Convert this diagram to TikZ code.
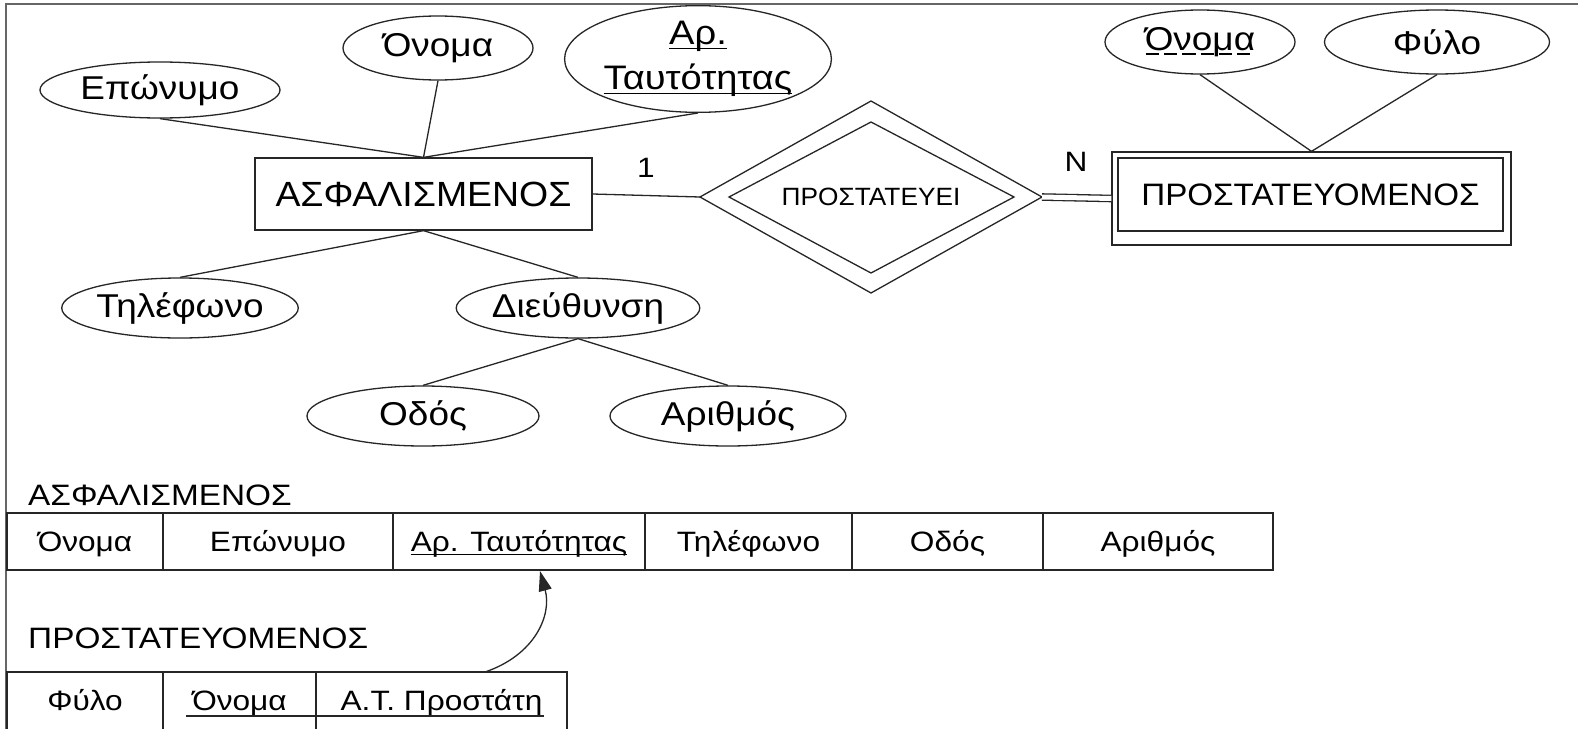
\documentclass[tikz,border=0pt]{standalone}
\usepackage{fontspec}
\setmainfont{Liberation Sans}[FakeStretch=1.12]
\newfontfamily\fattr{Liberation Sans}[FakeStretch=1.12]
\newfontfamily\fent{Liberation Sans}[FakeStretch=1.07]
\newfontfamily\ftab{Liberation Sans}[FakeStretch=1.13]
\newfontfamily\relfont{Liberation Sans}[FakeStretch=1.05]
\usetikzlibrary{shapes.geometric,arrows.meta,calc}
\newcommand\myul[1]{\leavevmode\setbox0=\hbox{#1}\rlap{\rule[-0.14em]{\wd0}{0.045em}}\box0}
\newcommand\myuld[1]{\leavevmode\setbox0=\hbox{#1}\rlap{\raisebox{-0.14em}{\hbox to \wd0{\xleaders\hbox to 0.52em{\rule{0.4em}{0.045em}\hss}\hfill}}}\box0}
\tikzset{
  ln/.style={line width=1.3pt, draw=black!85},
  attr/.style={ellipse, ln, inner sep=0pt, font=\fattr\fontsize{33}{40}\selectfont},
  entity/.style={rectangle, ln, inner sep=0pt, font=\fent\fontsize{35}{40}\selectfont},
  lbl/.style={inner sep=0pt, font=\ftab\fontsize{28}{32}\selectfont},
  tlbl/.style={inner sep=0pt, anchor=base west, font=\ftab\fontsize{29.5}{34}\selectfont},
  cellA/.style={rectangle, ln, inner sep=0pt, minimum height=57pt, text height=20pt, text depth=0pt, font=\ftab\fontsize{28}{32}\selectfont},
  cellB/.style={rectangle, ln, inner sep=0pt, minimum height=60pt, text height=20pt, text depth=4pt, font=\ftab\fontsize{28}{32}\selectfont},
}
\begin{document}
\begin{tikzpicture}[x=1pt,y=-1pt]
\useasboundingbox (0,0) rectangle (1578,728);
\clip (0,0) rectangle (1578,728);
\fill[white] (0,0) rectangle (1578,728);
\draw[line width=1.5pt, draw=black!60] (6,732) -- (6,4) -- (1582,4);

% ER part
\node[attr, minimum width=240pt, minimum height=56pt] (epo) at (160,90) {Επώνυμο};
\node[attr, minimum width=190pt, minimum height=64pt] (on1) at (438,48) {Όνομα};
\node[attr, minimum width=232pt, minimum height=106pt, align=center, font=\fattr\fontsize{34}{45}\selectfont] (art) at (698,59) {\myul{Αρ.}\\\myul{Ταυτότητας}};
\node[entity, minimum width=337pt, minimum height=72pt] (ent1) at (423.5,194) {ΑΣΦΑΛΙΣΜΕΝΟΣ};
\node[attr, minimum width=236pt, minimum height=60pt] (til) at (180,308) {Τηλέφωνο};
\node[attr, minimum width=236pt, minimum height=60pt] (die) at (578,308) {Διεύθυνση};
\node[attr, minimum width=232pt, minimum height=60pt] (odo) at (423,416) {Οδός};
\node[attr, minimum width=236pt, minimum height=60pt] (ari) at (728,416) {Αριθμός};
\node[attr, minimum width=190pt, minimum height=64pt] (on2) at (1200,42) {\myuld{Όνομα}};
\node[attr, minimum width=225pt, minimum height=64pt] (fyl) at (1437,42) {Φύλο};
\node[entity, minimum width=399pt, minimum height=93pt] (ent2) at (1311.5,198.5) {};
\node[entity, minimum width=385pt, minimum height=73pt, font=\fent\fontsize{31}{36}\selectfont] (ent2in) at (1310.5,194.5) {ΠΡΟΣΤΑΤΕΥΟΜΕΝΟΣ};

% relationship diamond
\node[inner sep=0pt, font=\relfont\fontsize{25}{30}\selectfont] (rel) at (871,197) {ΠΡΟΣΤΑΤΕΥΕΙ};
\coordinate (dL) at (700,197);
\coordinate (dT) at (871,101);
\coordinate (dR) at (1042,197);
\coordinate (dB) at (871,293);
\coordinate (iL) at (729,197);
\coordinate (iT) at (871,122);
\coordinate (iR) at (1014,197);
\coordinate (iB) at (871,273);
\draw[ln, line join=miter] (dL) -- (dT) -- (dR) -- (dB) -- cycle;
\draw[ln, line join=miter] (iL) -- (iT) -- (iR) -- (iB) -- cycle;

\node[lbl] (one) at (646,168) {1};
\node[lbl] (nn) at (1076,162) {N};

% connectors
\draw[ln] (epo.south) -- (ent1.north);
\draw[ln] (on1.south) -- (ent1.north);
\draw[ln] (art.south) -- (ent1.north);
\draw[ln] (ent1.south) -- (til.north);
\draw[ln] (ent1.south) -- (die.north);
\draw[ln] (die.south) -- (odo.north);
\draw[ln] (die.south) -- (ari.north);
\draw[ln] (on2.south) -- (ent2.north);
\draw[ln] (fyl.south) -- (ent2.north);
\draw[ln] (ent1.east) -- (dL);
\draw[ln, double, double distance=5pt] (dR) -- (ent2.west);

% relational tables
\node[tlbl] (lab1) at (28,505) {ΑΣΦΑΛΙΣΜΕΝΟΣ};
\node[cellA, minimum width=156pt] (t1a) at (85,541.5) {Όνομα};
\node[cellA, minimum width=230pt] (t1b) at (278,541.5) {Επώνυμο};
\node[cellA, minimum width=252pt] (t1c) at (519,541.5) {\myul{Αρ. Ταυτότητας}};
\node[cellA, minimum width=207pt] (t1d) at (748.5,541.5) {Τηλέφωνο};
\node[cellA, minimum width=191pt] (t1e) at (947.5,541.5) {Οδός};
\node[cellA, minimum width=230pt] (t1f) at (1158,541.5) {Αριθμός};

\node[tlbl] (lab2) at (28,648) {ΠΡΟΣΤΑΤΕΥΟΜΕΝΟΣ};
\node[cellB, minimum width=156pt] (t2a) at (85,702) {Φύλο};
\node[cellB, minimum width=153pt] (t2b) at (239.5,702) {Όνομα};
\node[cellB, minimum width=251pt] (t2c) at (441.5,702) {Α.Τ. Προστάτη};
\draw[line width=1.3pt, draw=black!85] (186,716) -- (544,716);

\coordinate (as) at (485,672);
\coordinate (ae) at (540,571);
\draw[ln, -{Triangle[length=20pt,width=13pt]}] (as) .. controls (535,655) and (552,615) .. (ae);
\end{tikzpicture}
\end{document}
